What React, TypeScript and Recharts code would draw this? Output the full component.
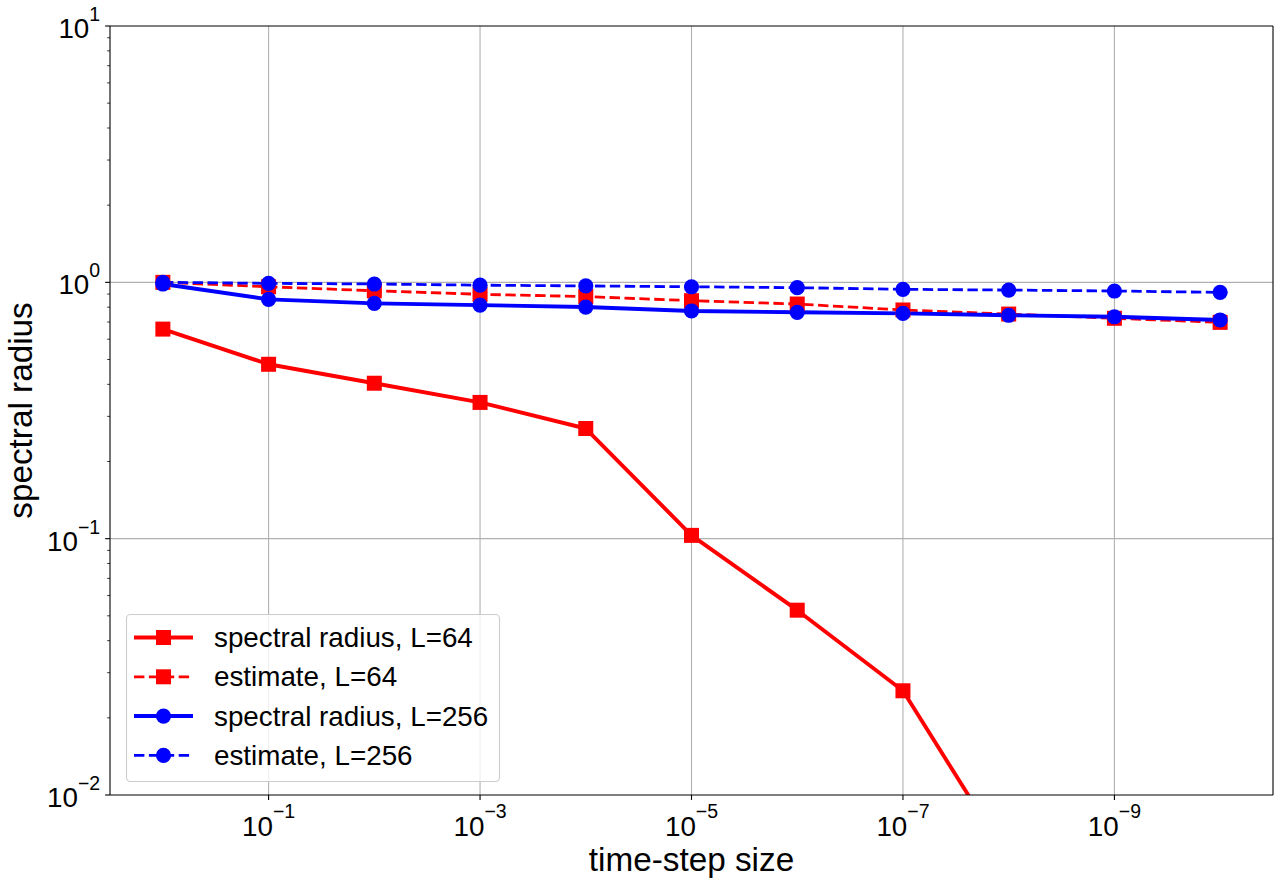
import React from "react";
import {
  LineChart,
  Line,
  XAxis,
  YAxis,
  CartesianGrid,
  ReferenceLine,
  Legend,
} from "recharts";

// time-step sizes, 10^0 down to 10^-10
const stepSizes = [1, 1e-1, 1e-2, 1e-3, 1e-4, 1e-5, 1e-6, 1e-7, 1e-8, 1e-9, 1e-10];

const radiusL64 = [0.657, 0.479, 0.404, 0.34, 0.269, 0.103, 0.0526, 0.0255, 0.0056, 0.0013, 0.0003];
const estimateL64 = [1.0, 0.961, 0.927, 0.898, 0.88, 0.848, 0.823, 0.78, 0.752, 0.724, 0.698];
const radiusL256 = [0.985, 0.858, 0.828, 0.815, 0.801, 0.773, 0.764, 0.757, 0.744, 0.734, 0.713];
const estimateL256 = [1.0, 0.991, 0.985, 0.975, 0.968, 0.961, 0.953, 0.939, 0.933, 0.925, 0.914];

const xTicks = [1e-1, 1e-3, 1e-5, 1e-7, 1e-9];
const yTicks = [
  0.01, 0.02, 0.03, 0.04, 0.05, 0.06, 0.07, 0.08, 0.09,
  0.1, 0.2, 0.3, 0.4, 0.5, 0.6, 0.7, 0.8, 0.9,
  1, 2, 3, 4, 5, 6, 7, 8, 9, 10,
];
const yGrid = [0.1, 1];

const X_DOMAIN = [Math.pow(10, -10.5), Math.pow(10, 0.5)];
const Y_DOMAIN = [0.01, 10];

const data = stepSizes.map((t, i) => ({
  t,
  r64: radiusL64[i],
  e64: estimateL64[i],
  r256: radiusL256[i],
  e256: estimateL256[i],
}));

const FONT = "'Liberation Sans', Arial, sans-serif";
const RED = "#ff0000";
const BLUE = "#0000ff";
const DASH = "10.4 4.5";

const series = [
  { key: "r64", name: "spectral radius, L=64", color: RED, dashed: false, marker: "square" },
  { key: "e64", name: "estimate, L=64", color: RED, dashed: true, marker: "square" },
  { key: "r256", name: "spectral radius, L=256", color: BLUE, dashed: false, marker: "circle" },
  { key: "e256", name: "estimate, L=256", color: BLUE, dashed: true, marker: "circle" },
];

const isDecade = (v: number) => {
  const l = Math.log10(v);
  return Math.abs(l - Math.round(l)) < 1e-9;
};

const expLabel = (v: number) => {
  const e = Math.round(Math.log10(v));
  return e < 0 ? "\u2212" + Math.abs(e) : String(e);
};

const XTick = (props: any) => {
  const { x, y, payload } = props;
  return (
    <g>
      <line x1={x} y1={y} x2={x} y2={y + 4.9} stroke="#000" strokeWidth={1.1} />
      <text x={x} y={y + 41} textAnchor="middle" fontFamily={FONT} fontSize={27.8} fill="#000">
        <tspan>10</tspan>
        <tspan dy={-18} fontSize={19.5}>{expLabel(payload.value)}</tspan>
      </text>
    </g>
  );
};

const YTick = (props: any) => {
  const { x, y, payload } = props;
  const major = isDecade(payload.value);
  return (
    <g>
      <line x1={x - (major ? 4.9 : 2.8)} y1={y} x2={x} y2={y} stroke="#000" strokeWidth={major ? 1.1 : 0.8} />
      {major && (
        <text x={x - 9.8} y={y + 12} textAnchor="end" fontFamily={FONT} fontSize={27.8} fill="#000">
          <tspan>10</tspan>
          <tspan dy={-17} fontSize={19.5}>{expLabel(payload.value)}</tspan>
        </text>
      )}
    </g>
  );
};

const Marker = ({ cx, cy, color, kind }: { cx: number; cy: number; color: string; kind: string }) =>
  kind === "square" ? (
    <rect x={cx - 7.5} y={cy - 7.5} width={15} height={15} fill={color} />
  ) : (
    <circle cx={cx} cy={cy} r={7.6} fill={color} />
  );

const LegendBox = () => (
  <svg width={375} height={169} style={{ display: "block" }}>
    <rect x={0.5} y={0.5} width={373} height={167} rx={4} fill="#fff" fillOpacity={0.8} stroke="#cccccc" strokeWidth={1.1} />
    {series.map((s, i) => {
      const cy = 23.5 + i * 39.3;
      return (
        <g key={s.key}>
          <line
            x1={8}
            y1={cy}
            x2={67}
            y2={cy}
            stroke={s.color}
            strokeWidth={s.dashed ? 2.8 : 4}
            strokeDasharray={s.dashed ? DASH : undefined}
          />
          <Marker cx={37.5} cy={cy} color={s.color} kind={s.marker} />
          <text x={88} y={cy + 9.5} fontFamily={FONT} fontSize={27.8} fill="#000">
            {s.name}
          </text>
        </g>
      );
    })}
  </svg>
);

export default function App() {
  return (
    <div style={{ position: "absolute", left: 0, top: 0, background: "#fff" }}>
      <LineChart
        width={1286}
        height={889}
        data={data}
        margin={{ top: 26, right: 13, bottom: 0, left: 0 }}
      >
        <CartesianGrid
          stroke="#b0b0b0"
          strokeWidth={1.1}
          horizontalValues={yGrid}
          verticalValues={xTicks}
        />
        <XAxis
          dataKey="t"
          type="number"
          scale="log"
          domain={X_DOMAIN}
          allowDataOverflow
          reversed
          ticks={xTicks}
          interval={0}
          tick={<XTick />}
          tickLine={false}
          tickSize={0}
          tickMargin={0}
          axisLine={{ stroke: "#000", strokeWidth: 1.1 }}
          height={94}
          label={{
            value: "time-step size",
            position: "insideBottom",
            offset: 18,
            fontFamily: FONT,
            fontSize: 33.3,
            fill: "#000",
          }}
        />
        <YAxis
          type="number"
          scale="log"
          domain={Y_DOMAIN}
          allowDataOverflow
          ticks={yTicks}
          interval={0}
          tick={<YTick />}
          tickLine={false}
          tickSize={0}
          tickMargin={0}
          axisLine={{ stroke: "#000", strokeWidth: 1.1 }}
          width={110}
          label={{
            value: "spectral radius",
            angle: -90,
            position: "insideLeft",
            offset: 20,
            style: { textAnchor: "middle" },
            fontFamily: FONT,
            fontSize: 33.3,
            fill: "#000",
          }}
        />
        {/* top and right spines of the frame */}
        <ReferenceLine y={Y_DOMAIN[1]} stroke="#000" strokeWidth={1.1} />
        <ReferenceLine x={X_DOMAIN[0]} stroke="#000" strokeWidth={1.1} />
        {series.map((s) => (
          <Line
            key={s.key}
            dataKey={s.key}
            name={s.name}
            type="linear"
            stroke={s.color}
            strokeWidth={s.dashed ? 2.8 : 3.9}
            strokeDasharray={s.dashed ? DASH : undefined}
            strokeLinejoin="round"
            isAnimationActive={false}
            dot={(p: any) => (
              <Marker key={`${s.key}-${p.index}`} cx={p.cx} cy={p.cy} color={s.color} kind={s.marker} />
            )}
            activeDot={false}
          />
        ))}
        <Legend
          layout="vertical"
          align="center"
          verticalAlign="middle"
          wrapperStyle={{ left: 126, top: 614, width: 375, height: 169 }}
          content={() => <LegendBox />}
        />
      </LineChart>
    </div>
  );
}
